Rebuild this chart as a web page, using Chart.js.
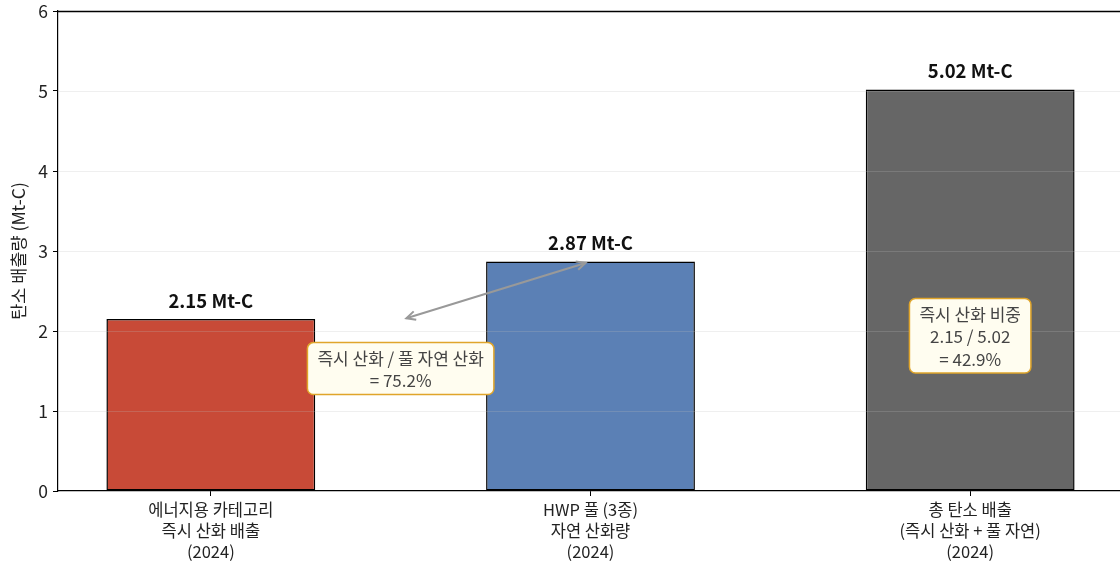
<!DOCTYPE html>
<html>
<head>
<meta charset="utf-8">
<script src="https://cdn.jsdelivr.net/npm/chart.js@4"></script>
<style>
  html, body { margin: 0; padding: 0; background: #fff; overflow: hidden; }
  #wrap { width: 1123px; height: 566px; }
</style>
</head>
<body>
<div id="wrap"><canvas id="chart" width="1123" height="566"></canvas></div>
<script>
const categories = [
  ['에너지용 카테고리', '즉시 산화 배출', '(2024)'],
  ['HWP 풀 (3종)', '자연 산화량', '(2024)'],
  ['총 탄소 배출', '(즉시 산화 + 풀 자연)', '(2024)']
];
const values = [2.15, 2.87, 5.02];
const valueLabels = ['2.15 Mt-C', '2.87 Mt-C', '5.02 Mt-C'];
const barColors = ['#c84a37', '#5b80b5', '#666666'];
const yTicks = [0, 1, 2, 3, 4, 5, 6];
const ratioNote = ['즉시 산화 / 풀 자연 산화', '= 75.2%'];
const shareNote = ['즉시 산화 비중', '2.15 / 5.02', '= 42.9%'];

const FONT = '"Noto Sans CJK KR", "Noto Sans", sans-serif';

// grid on top of bars, spines, value labels, arrow and note boxes
const overlay = {
  id: 'overlay',
  afterDatasetsDraw(chart) {
    const ctx = chart.ctx;
    const { left, right, top, bottom } = chart.chartArea;
    const x = chart.scales.x, y = chart.scales.y;

    ctx.save();
    ctx.strokeStyle = 'rgba(190,190,190,0.3)';
    ctx.lineWidth = 0.8;
    yTicks.slice(1, -1).forEach(v => {
      const py = Math.round(y.getPixelForValue(v)) + 0.5;
      ctx.beginPath(); ctx.moveTo(left, py); ctx.lineTo(right, py); ctx.stroke();
    });

    ctx.strokeStyle = '#000';
    ctx.lineWidth = 1.3;
    const ty = Math.round(top) + 0.5;
    ctx.beginPath(); ctx.moveTo(left, ty); ctx.lineTo(right, ty); ctx.lineTo(right, bottom); ctx.stroke();

    // value labels
    const bars = chart.getDatasetMeta(0).data;
    ctx.fillStyle = '#111';
    ctx.font = 'bold 18.5px ' + FONT;
    ctx.textAlign = 'center';
    ctx.textBaseline = 'middle';
    bars.forEach((b, i) => ctx.fillText(valueLabels[i], b.x, b.y - 18));

    // double arrow
    const x1 = x.getPixelForValue(0.515), y1 = y.getPixelForValue(2.16);
    const x2 = x.getPixelForValue(0.987), y2 = y.getPixelForValue(2.85);
    ctx.strokeStyle = '#999';
    ctx.lineWidth = 2;
    ctx.beginPath(); ctx.moveTo(x1, y1); ctx.lineTo(x2, y2); ctx.stroke();
    const head = (tx, ty, fx, fy) => {
      const a = Math.atan2(ty - fy, tx - fx), L = 10, w = 0.45;
      ctx.beginPath();
      ctx.moveTo(tx - L * Math.cos(a - w), ty - L * Math.sin(a - w));
      ctx.lineTo(tx, ty);
      ctx.lineTo(tx - L * Math.cos(a + w), ty - L * Math.sin(a + w));
      ctx.stroke();
    };
    head(x1, y1, x2, y2);
    head(x2, y2, x1, y1);

    // note boxes
    const note = (lines, cx, cy) => {
      ctx.font = '17px ' + FONT;
      const lh = 22.5;
      const w = Math.max(...lines.map(l => ctx.measureText(l).width)) + 20;
      const h = lines.length * lh + 7;
      const bx = cx - w / 2, by = cy - h / 2;
      ctx.beginPath();
      ctx.roundRect(bx, by, w, h, 6);
      ctx.fillStyle = '#fffdf0';
      ctx.fill();
      ctx.strokeStyle = '#e0a52a';
      ctx.lineWidth = 1.5;
      ctx.stroke();
      ctx.fillStyle = '#444';
      lines.forEach((l, i) => ctx.fillText(l, cx, by + 3.5 + lh * (i + 0.5) + 1));
    };
    note(ratioNote, x.getPixelForValue(0.5), y.getPixelForValue(1.53));
    note(shareNote, x.getPixelForValue(2), y.getPixelForValue(1.94));
    ctx.restore();
  }
};

new Chart(document.getElementById('chart'), {
  type: 'bar',
  data: {
    datasets: [{
      data: values.map((v, i) => ({ x: i, y: v })),
      backgroundColor: barColors,
      borderColor: '#000',
      borderWidth: 1.5,
      borderSkipped: false,
      barPercentage: 0.55,
      categoryPercentage: 1
    }]
  },
  options: {
    responsive: false,
    animation: false,
    layout: { padding: { top: 0, right: 0, left: 0, bottom: 0 } },
    plugins: { legend: { display: false }, tooltip: { enabled: false } },
    scales: {
      x: {
        type: 'linear',
        offset: false,
        min: -0.4025,
        max: 2.4025,
        afterBuildTicks: s => { s.ticks = categories.map((c, i) => ({ value: i })); },
        afterFit: s => { s.height = 75; s.paddingLeft = 0; s.paddingRight = 0; },
        grid: { offset: false, drawOnChartArea: false, drawTicks: true, tickLength: 5, tickColor: '#000', tickWidth: 1 },
        border: { display: true, color: '#000', width: 1.2 },
        ticks: {
          autoSkip: false,
          maxRotation: 0,
          padding: 3,
          color: '#222',
          font: { family: FONT, size: 16.5, lineHeight: 1.28 },
          callback: v => categories[v]
        }
      },
      y: {
        min: 0,
        max: 6,
        afterBuildTicks: s => { s.ticks = yTicks.map(v => ({ value: v })); },
        afterFit: s => { s.width = 58; s.paddingTop = 11; s.paddingBottom = 0; },
        grid: { drawOnChartArea: false, drawTicks: true, tickLength: 5, tickColor: '#000', tickWidth: 1 },
        border: { display: true, color: '#000', width: 1.2 },
        ticks: {
          padding: 5,
          color: '#222',
          font: { family: FONT, size: 17.5 }
        },
        title: {
          display: true,
          text: '탄소 배출량 (Mt-C)',
          color: '#222',
          padding: { top: 8, bottom: 0 },
          font: { family: FONT, size: 17.5 }
        }
      }
    }
  },
  plugins: [overlay]
});
</script>
</body>
</html>
